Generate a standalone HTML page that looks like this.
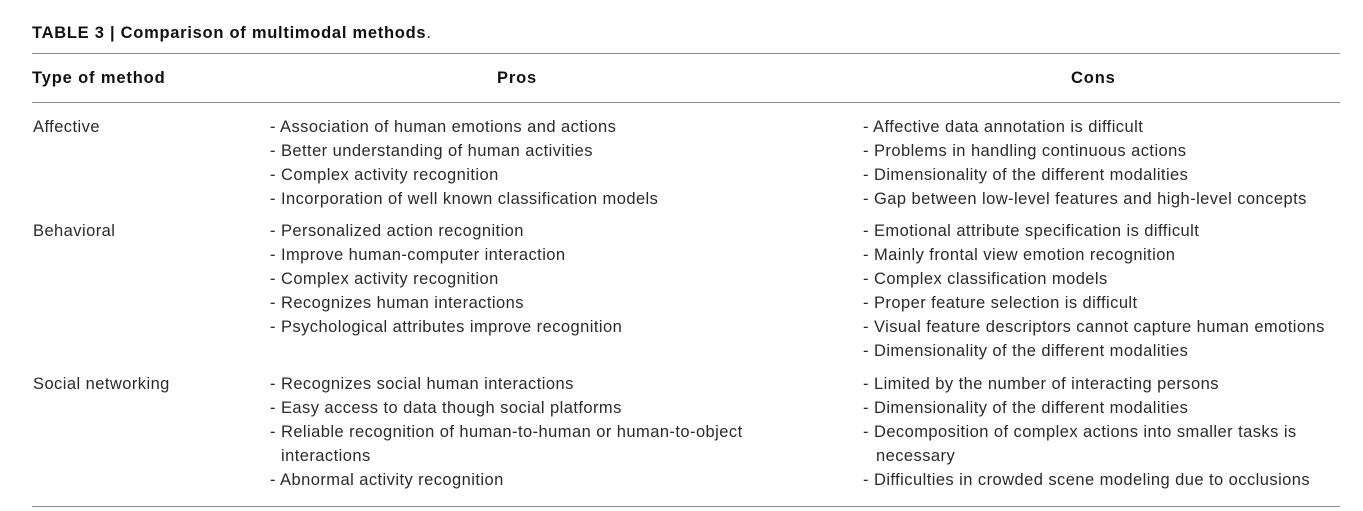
<!DOCTYPE html>
<html><head><meta charset="utf-8"><style>
body{margin:0;width:1363px;height:511px;background:#fff;font-family:"Liberation Sans",Arial,sans-serif;color:#2a2a2a;position:relative;overflow:hidden}
.t{position:absolute;white-space:nowrap;font-size:16.5px;line-height:18px;letter-spacing:0.44px}
.b{font-weight:bold;color:#111;letter-spacing:0.85px}
.l{position:absolute;left:32px;width:1308px;height:1px;background:#8a8a8a}
</style></head><body>
<div class="t b" style="left:32px;top:24px;font-size:16.5px;letter-spacing:0.73px">TABLE 3 | Comparison of multimodal methods<span style="font-weight:normal">.</span></div>
<div class="l" style="top:53px"></div>
<div class="t b" style="left:32px;top:69px">Type of method</div>
<div class="t b" style="left:497px;top:69px">Pros</div>
<div class="t b" style="left:1071px;top:69px">Cons</div>
<div class="l" style="top:102px"></div>

<div class="t" style="left:33px;top:118px">Affective</div>
<div class="t" style="left:270px;top:118px">- Association of human emotions and actions</div>
<div class="t" style="left:270px;top:142px">- Better understanding of human activities</div>
<div class="t" style="left:270px;top:166px">- Complex activity recognition</div>
<div class="t" style="left:270px;top:190px">- Incorporation of well known classification models</div>
<div class="t" style="left:863px;top:118px">- Affective data annotation is difficult</div>
<div class="t" style="left:863px;top:142px">- Problems in handling continuous actions</div>
<div class="t" style="left:863px;top:166px">- Dimensionality of the different modalities</div>
<div class="t" style="left:863px;top:190px">- Gap between low-level features and high-level concepts</div>

<div class="t" style="left:33px;top:222px">Behavioral</div>
<div class="t" style="left:270px;top:222px">- Personalized action recognition</div>
<div class="t" style="left:270px;top:246px">- Improve human-computer interaction</div>
<div class="t" style="left:270px;top:270px">- Complex activity recognition</div>
<div class="t" style="left:270px;top:294px">- Recognizes human interactions</div>
<div class="t" style="left:270px;top:318px">- Psychological attributes improve recognition</div>
<div class="t" style="left:863px;top:222px">- Emotional attribute specification is difficult</div>
<div class="t" style="left:863px;top:246px">- Mainly frontal view emotion recognition</div>
<div class="t" style="left:863px;top:270px">- Complex classification models</div>
<div class="t" style="left:863px;top:294px">- Proper feature selection is difficult</div>
<div class="t" style="left:863px;top:318px">- Visual feature descriptors cannot capture human emotions</div>
<div class="t" style="left:863px;top:342px">- Dimensionality of the different modalities</div>

<div class="t" style="left:33px;top:375px">Social networking</div>
<div class="t" style="left:270px;top:375px">- Recognizes social human interactions</div>
<div class="t" style="left:270px;top:399px">- Easy access to data though social platforms</div>
<div class="t" style="left:270px;top:423px">- Reliable recognition of human-to-human or human-to-object</div>
<div class="t" style="left:281px;top:447px">interactions</div>
<div class="t" style="left:270px;top:471px">- Abnormal activity recognition</div>
<div class="t" style="left:863px;top:375px">- Limited by the number of interacting persons</div>
<div class="t" style="left:863px;top:399px">- Dimensionality of the different modalities</div>
<div class="t" style="left:863px;top:423px">- Decomposition of complex actions into smaller tasks is</div>
<div class="t" style="left:876px;top:447px">necessary</div>
<div class="t" style="left:863px;top:471px">- Difficulties in crowded scene modeling due to occlusions</div>
<div class="l" style="top:506px"></div>
</body></html>
